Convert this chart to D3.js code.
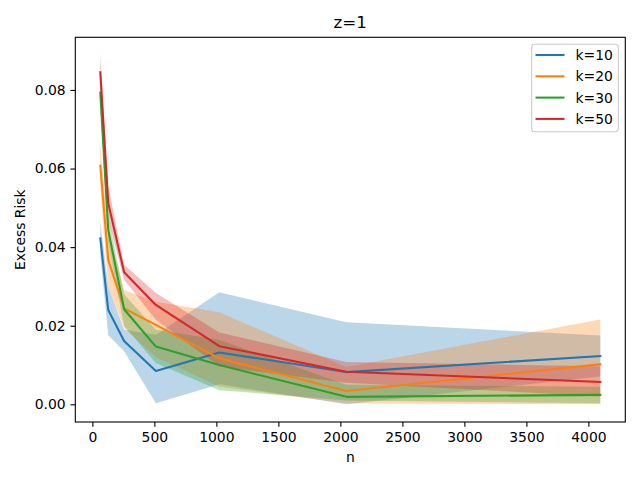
<!DOCTYPE html>
<html>
<head>
<meta charset="utf-8">
<script src="https://d3js.org/d3.v7.min.js"></script>
<style>
  body { margin: 0; background: #fff; }
  text { font-family: "DejaVu Sans", sans-serif; }
</style>
</head>
<body>
<script>
// sample sizes
var ns = [64, 128, 256, 512, 1024, 2048, 4096];
var labels = ["k=10", "k=20", "k=30", "k=50"];
var colors = ["#1f77b4", "#ff7f0e", "#2ca02c", "#d62728"];

// mean excess risk per k
var mean10 = [0.0422, 0.0240, 0.0161, 0.0085, 0.0132, 0.0082, 0.0123];
var mean20 = [0.0607, 0.0367, 0.0244, 0.0202, 0.0117, 0.0034, 0.0102];
var mean30 = [0.0793, 0.0444, 0.0242, 0.0147, 0.0100, 0.0019, 0.0024];
var mean50 = [0.0845, 0.0512, 0.0336, 0.0253, 0.0148, 0.0083, 0.0057];

// shaded band, lower / upper
var low10 = [0.0380, 0.0176, 0.0135, 0.0003, 0.0051, 0.0000, 0.0071];
var up10 = [0.0464, 0.0300, 0.0190, 0.0177, 0.0285, 0.0209, 0.0175];
var low20 = [0.0555, 0.0300, 0.0194, 0.0120, 0.0045, 0.0003, 0.0000];
var up20 = [0.0660, 0.0440, 0.0291, 0.0261, 0.0234, 0.0095, 0.0216];
var low30 = [0.0760, 0.0410, 0.0200, 0.0105, 0.0036, 0.0010, 0.0003];
var up30 = [0.0826, 0.0478, 0.0280, 0.0190, 0.0164, 0.0050, 0.0045];
var low50 = [0.0800, 0.0470, 0.0317, 0.0215, 0.0096, 0.0055, 0.0020];
var up50 = [0.0890, 0.0555, 0.0355, 0.0283, 0.0183, 0.0108, 0.0097];

var xTicks = [0, 500, 1000, 1500, 2000, 2500, 3000, 3500, 4000];
var yTicks = [0, 0.02, 0.04, 0.06, 0.08];

var means = [mean10, mean20, mean30, mean50];
var lows = [low10, low20, low30, low50];
var ups = [up10, up20, up30, up50];

var w = 640;
var h = 480;
var mLeft = 75.3, mRight = 625.3, mTop = 37.3, mBottom = 422;
var fs = 13.9;

var svg = d3.select("body").append("svg").attr("width", w).attr("height", h);

var xScale = d3.scaleLinear().domain([-137.6, 4297.6]).range([mLeft, mRight]);
var yScale = d3.scaleLinear().domain([-0.0045, 0.0934]).range([mBottom, mTop]);

// build per-series point lists
var series = labels.map(function (lab, i) {
  return ns.map(function (n, j) {
    return { n: n, m: means[i][j], lo: lows[i][j], hi: ups[i][j] };
  });
});

var area = d3
  .area()
  .x(function (d) { return xScale(d.n); })
  .y0(function (d) { return yScale(d.lo); })
  .y1(function (d) { return yScale(d.hi); });

var line = d3
  .line()
  .x(function (d) { return xScale(d.n); })
  .y(function (d) { return yScale(d.m); });

// bands go below all the lines
var bands = svg.append("g");
var lines = svg.append("g");

series.forEach(function (s, i) {
  bands.append("path")
    .attr("d", area(s))
    .attr("fill", colors[i])
    .attr("fill-opacity", 0.3);
  lines.append("path")
    .attr("d", line(s))
    .attr("fill", "none")
    .attr("stroke", colors[i])
    .attr("stroke-width", 2.08)
    .attr("stroke-linejoin", "round")
    .attr("stroke-linecap", "square");
});

// axes
var xAxis = d3.axisBottom(xScale).tickValues(xTicks).tickFormat(d3.format("d"))
  .tickSize(4.86).tickPadding(4.86).tickSizeOuter(0);
var yAxis = d3.axisLeft(yScale).tickValues(yTicks).tickFormat(d3.format(".2f"))
  .tickSize(4.86).tickPadding(4.86).tickSizeOuter(0);

var gx = svg.append("g").attr("transform", "translate(0," + mBottom + ")").call(xAxis);
var gy = svg.append("g").attr("transform", "translate(" + mLeft + ",0)").call(yAxis);

[gx, gy].forEach(function (g) {
  g.select(".domain").remove();
  g.selectAll(".tick line").attr("stroke", "#000").attr("stroke-width", 1.1);
  g.selectAll(".tick text").attr("fill", "#000").style("font-size", fs + "px").style("font-family", "DejaVu Sans");
});

// frame
svg.append("rect")
  .attr("x", mLeft).attr("y", mTop)
  .attr("width", mRight - mLeft).attr("height", mBottom - mTop)
  .attr("fill", "none").attr("stroke", "#000").attr("stroke-width", 1.1);

// labels
svg.append("text").attr("x", (mLeft + mRight) / 2).attr("y", 28)
  .attr("text-anchor", "middle").style("font-size", "16.7px").text("z=1");
svg.append("text").attr("x", (mLeft + mRight) / 2).attr("y", 462)
  .attr("text-anchor", "middle").style("font-size", fs + "px").text("n");
svg.append("text")
  .attr("transform", "translate(25," + (mTop + mBottom) / 2 + ") rotate(-90)")
  .attr("text-anchor", "middle").style("font-size", fs + "px").text("Excess Risk");

// legend
var legend = svg.append("g");
legend.append("rect")
  .attr("x", 531.7).attr("y", 44.3).attr("width", 86.6).attr("height", 87.4)
  .attr("rx", 3).attr("fill", "#fff").attr("fill-opacity", 0.8)
  .attr("stroke", "#cccccc").attr("stroke-width", 1.1);

labels.forEach(function (lab, i) {
  var yy = 55 + i * 21.3;
  legend.append("line")
    .attr("x1", 535.5).attr("x2", 564.5).attr("y1", yy).attr("y2", yy)
    .attr("stroke", colors[i]).attr("stroke-width", 2.08);
  legend.append("text")
    .attr("x", 575.5).attr("y", yy + 4.9)
    .style("font-size", fs + "px").attr("fill", "#000").text(lab);
});
</script>
</body>
</html>
